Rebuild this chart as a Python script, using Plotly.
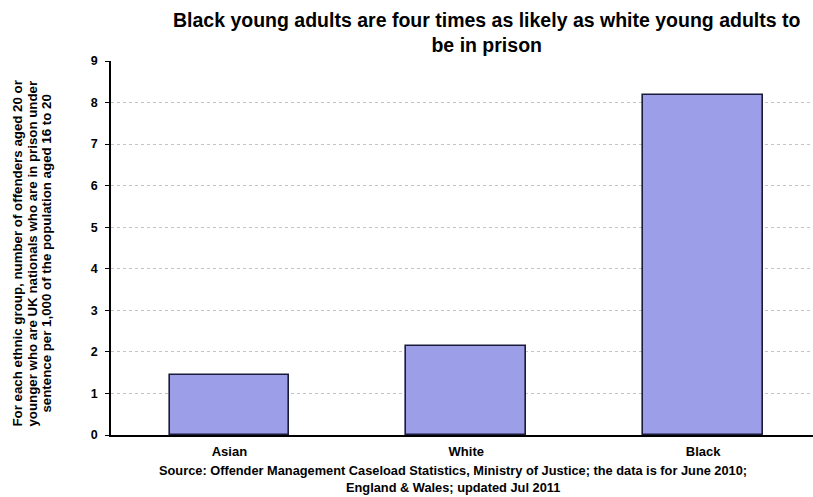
import plotly.graph_objects as go

categories = ["Asian", "White", "Black"]
values = [1.44, 2.14, 8.17]
y_ticks = [0, 1, 2, 3, 4, 5, 6, 7, 8, 9]

title_text = "Black young adults are four times as likely as white young adults to<br>be in prison"
y_title_lines = [
    "For each ethnic group, number of offenders aged 20 or",
    "younger who are UK nationals who are in prison under",
    "sentence per 1,000 of the population aged 16 to 20",
]
source_lines = [
    "Source: Offender Management Caseload Statistics, Ministry of Justice; the data is for June 2010;",
    "England &amp; Wales; updated Jul 2011",
]

FONT = "Liberation Sans, Arial, sans-serif"
L, R = 111, 813
W = R - L

fig = go.Figure()
fig.add_trace(go.Bar(
    x=list(range(len(categories))), y=values, width=0.506,
    marker=dict(color="#9c9fe8", line=dict(color="#1a1a3a", width=1.6)),
    hoverinfo="skip",
))

fig.update_layout(
    width=813, height=497,
    margin=dict(l=L, r=0, t=61, b=62),
    paper_bgcolor="white", plot_bgcolor="white",
    showlegend=False,
    font=dict(family=FONT, color="black"),
    xaxis=dict(
        range=[-0.5, 2.464], tickmode="array",
        tickvals=list(range(len(categories))), ticktext=["<b>%s</b>" % c for c in categories],
        tickfont=dict(size=13, family=FONT, color="black"),
        showgrid=False, showline=True, linecolor="black", linewidth=1.5,
        ticks="", zeroline=False, ticklabelstandoff=4,
    ),
    yaxis=dict(
        range=[0, 9], tickmode="array", tickvals=y_ticks,
        ticktext=["<b>%d</b>" % t for t in y_ticks],
        tickfont=dict(size=12.5, family=FONT, color="black"),
        showgrid=True, gridcolor="#c4c4c4", griddash="dot", gridwidth=1,
        showline=True, linecolor="black", linewidth=1.5,
        ticks="outside", ticklen=4, tickcolor="black", zeroline=False,
        ticklabelstandoff=5,
    ),
    bargap=0,
)

fig.add_annotation(
    text="<b>%s</b>" % title_text, xref="paper", yref="paper",
    x=(486 - L) / W, y=1, yshift=54, yanchor="top",
    showarrow=False, font=dict(size=19.5, family=FONT, color="black"), align="center",
)
for i, line in enumerate(y_title_lines):
    px = [18, 33, 47][i]
    fig.add_annotation(
        text="<b>%s</b>" % line, xref="paper", yref="paper",
        x=-(L - px) / W, y=0.485, textangle=-90,
        xanchor="center", yanchor="middle",
        showarrow=False, font=dict(size=13.3, family=FONT, color="black"), align="center",
    )
for i, line in enumerate(source_lines):
    fig.add_annotation(
        text="<b>%s</b>" % line, xref="paper", yref="paper",
        x=(453 - L) / W, y=0, yshift=-(35 + 17 * i), yanchor="middle",
        showarrow=False, font=dict(size=12.8, family=FONT, color="black"), align="center",
    )

fig.write_html("out.html")
